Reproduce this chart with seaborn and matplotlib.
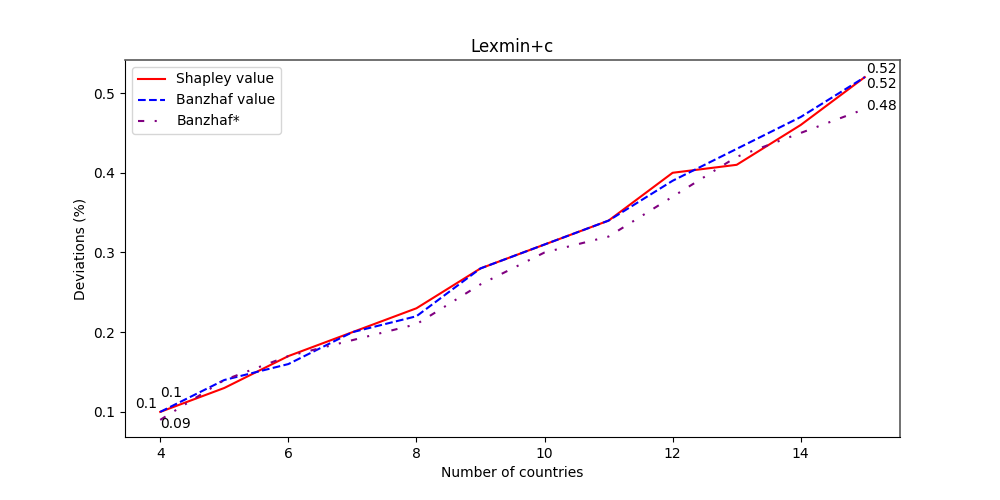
import pandas as pd
import matplotlib.pyplot as plt
import seaborn as sns

# Data
countries = [4, 5, 6, 7, 8, 9, 10, 11, 12, 13, 14, 15]
shapley = [0.10, 0.13, 0.17, 0.20, 0.23, 0.28, 0.31, 0.34, 0.40, 0.41, 0.46, 0.52]
banzhaf = [0.10, 0.14, 0.16, 0.20, 0.22, 0.28, 0.31, 0.34, 0.39, 0.43, 0.47, 0.52]
banzhaf_star = [0.09, 0.14, 0.17, 0.19, 0.21, 0.26, 0.30, 0.32, 0.37, 0.42, 0.45, 0.48]

df = pd.DataFrame({"n": countries, "Shapley value": shapley,
                   "Banzhaf value": banzhaf, "Banzhaf*": banzhaf_star})

fig, ax = plt.subplots(figsize=(10, 5), dpi=100)
fig.subplots_adjust(left=0.125, right=0.9, top=0.88, bottom=0.126)

sns.lineplot(x="n", y="Shapley value", data=df, ax=ax, color="red",
             linestyle="-", linewidth=1.5, label="Shapley value")
sns.lineplot(x="n", y="Banzhaf value", data=df, ax=ax, color="blue",
             linestyle="--", linewidth=1.5, label="Banzhaf value")
sns.lineplot(x="n", y="Banzhaf*", data=df, ax=ax, color="purple",
             linestyle=(0, (3, 5, 1, 5, 1, 5)), linewidth=1.5, label="Banzhaf*")

# first/last value labels (offsets in points)
def label(x, y, dx, dy, ha="left"):
    ax.annotate(f"{y:g}", (x, y), xytext=(dx, dy), textcoords="offset points",
                ha=ha, va="baseline", fontsize=10)

label(countries[0], shapley[0], -2, 3, ha="right")
label(countries[0], banzhaf[0], 0, 11)
label(countries[0], banzhaf_star[0], 0, -6)
label(countries[-1], banzhaf[-1], 1, 3)
label(countries[-1], shapley[-1], 1, -8)
label(countries[-1], banzhaf_star[-1], 1, -1)

ax.set_title("Lexmin+c")
ax.set_xlabel("Number of countries")
ax.set_ylabel("Deviations (%)")
ax.legend(loc="upper left")
for s in ["top", "right"]:
    ax.spines[s].set_color("0.35")
    ax.spines[s].set_linewidth(1.2)

plt.savefig("out.png")
